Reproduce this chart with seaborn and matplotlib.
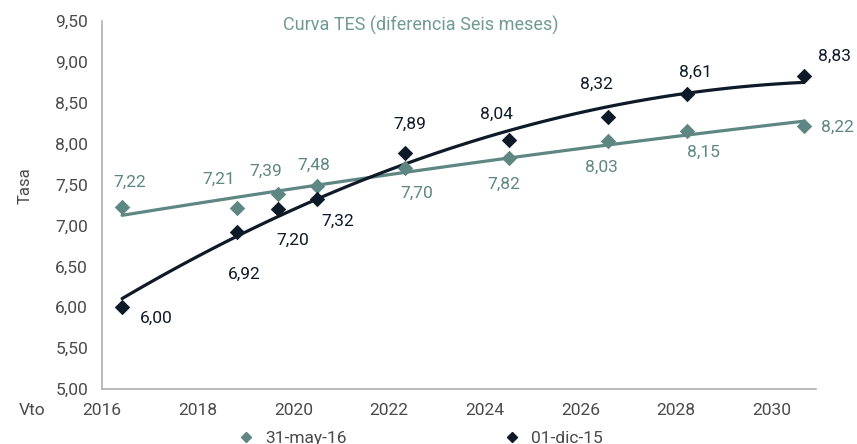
import numpy as np
import pandas as pd
import matplotlib
matplotlib.use('Agg')
import matplotlib.pyplot as plt
from matplotlib.ticker import FuncFormatter, MultipleLocator
from matplotlib.lines import Line2D
import seaborn as sns

# vencimientos (anos decimales) y tasas
vencimientos = [2016.42, 2018.82, 2019.67, 2020.49, 2022.33, 2024.50, 2026.58, 2028.23, 2030.66]
tasa_may16 = [7.22, 7.21, 7.39, 7.48, 7.70, 7.82, 8.03, 8.15, 8.22]
tasa_dic15 = [6.00, 6.92, 7.20, 7.32, 7.89, 8.04, 8.32, 8.61, 8.83]
series_labels = ['31-may-16', '01-dic-15']
x_ticks = [2016, 2018, 2020, 2022, 2024, 2026, 2028, 2030]

GREEN = '#5e8683'
DARK = '#0e1a27'
TITLE_C = '#6f9a97'
TICK_C = '#4a4a4a'
SPINE_C = '#b0b0b0'

# label offsets in pixels (dx, dy with y down)
off_may16 = [(8, -25), (-18, -29), (-12, -22), (-3, -21), (12, 25), (-5, 26), (-7, 26), (16, 21), (34, 2)]
off_dic15 = [(34, 11), (7, 42), (15, 31), (21, 22), (5, -28), (-12, -26), (-12, -33), (8, -21), (31, -19)]

df = pd.DataFrame({'vto': vencimientos, 'may16': tasa_may16, 'dic15': tasa_dic15})

sns.set_style('white')
plt.rcParams['font.family'] = ['Roboto', 'DejaVu Sans']

W, H = 857, 444
fig = plt.figure(figsize=(W / 100, H / 100), dpi=100)
ax = fig.add_axes([102 / W, 1 - 389 / H, (816 - 102) / W, (389 - 21) / H])

for col, color in [('may16', GREEN), ('dic15', DARK)]:
    sns.regplot(data=df, x='vto', y=col, order=2, ci=None, ax=ax, marker='D',
                scatter_kws={'s': 62, 'color': color, 'alpha': 1, 'linewidths': 0, 'zorder': 3},
                line_kws={'color': color, 'lw': 2.3, 'zorder': 2})

px = 72 / 100
for i, v in enumerate(tasa_may16):
    dx, dy = off_may16[i]
    ax.annotate(f'{v:.2f}'.replace('.', ','), (vencimientos[i], v), xytext=(dx * px, -dy * px),
                textcoords='offset points', ha='center', va='center', fontsize=12.5, color=GREEN)
for i, v in enumerate(tasa_dic15):
    dx, dy = off_dic15[i]
    ax.annotate(f'{v:.2f}'.replace('.', ','), (vencimientos[i], v), xytext=(dx * px, -dy * px),
                textcoords='offset points', ha='center', va='center', fontsize=12.5, color=DARK)

ax.set_xlim(2016, 2030.92)
ax.set_ylim(5, 9.5)
ax.set_xticks(x_ticks)
ax.yaxis.set_major_locator(MultipleLocator(0.5))
ax.yaxis.set_major_formatter(FuncFormatter(lambda v, p: f'{v:.2f}'.replace('.', ',')))
ax.set_xlabel('')
ax.set_ylabel('')
ax.tick_params(axis='both', direction='out', length=4, width=1, color=SPINE_C,
               labelcolor=TICK_C, labelsize=12.5, pad=6)
for s in ['top', 'right']:
    ax.spines[s].set_visible(False)
for s in ['left', 'bottom']:
    ax.spines[s].set_color(SPINE_C)
    ax.spines[s].set_linewidth(1.2)

fig.text(421 / W, 1 - 25 / H, 'Curva TES (diferencia Seis meses)', ha='center', va='center',
         fontsize=13, color=TITLE_C)
fig.text(25 / W, 1 - 186 / H, 'Tasa', rotation=90, ha='center', va='center', fontsize=12,
         color=TICK_C)
fig.text(32 / W, 1 - 410 / H, 'Vto', ha='center', va='center', fontsize=12.5, color=TICK_C)

handles = [Line2D([], [], ls='none', marker='D', ms=5, color=GREEN, mec=GREEN),
           Line2D([], [], ls='none', marker='D', ms=5, color=DARK, mec=DARK)]
fig.legend(handles, series_labels, loc='center', bbox_to_anchor=(420 / W, 1 - 438 / H), ncol=2,
           frameon=False, fontsize=12.5, labelcolor=TICK_C, columnspacing=9.0, handletextpad=0.6,
           handlelength=1.0)

fig.savefig('out.png', dpi=100)
